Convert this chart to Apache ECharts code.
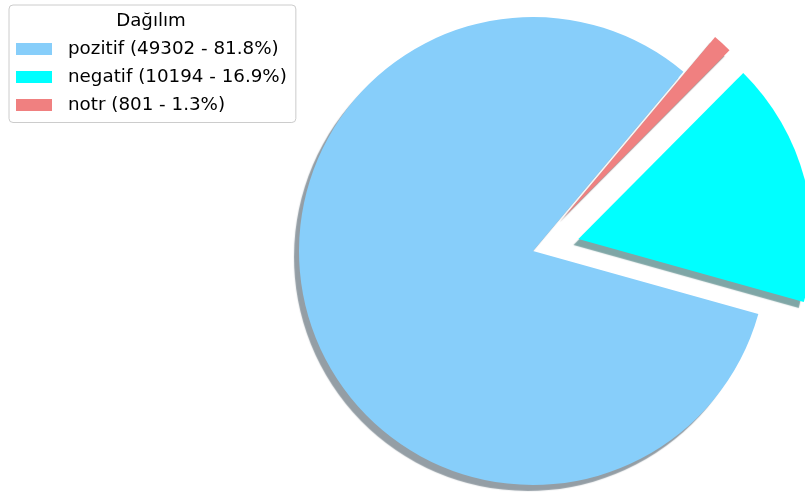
<!DOCTYPE html>
<html>
<head>
<meta charset="utf-8">
<script src="https://cdn.jsdelivr.net/npm/echarts@6/dist/echarts.min.js"></script>
<style>
  html, body { margin: 0; padding: 0; background: #fff; }
  #chart { width: 805px; height: 496px; }
</style>
</head>
<body>
<div id="chart"></div>
<script>
// Sentiment distribution
const categories = ['pozitif', 'negatif', 'notr'];
const counts = [49302, 10194, 801];
const colors = ['#87CEFA', '#00FFFF', '#F08080'];
const shadowColors = ['rgba(41,62,75,0.5)', 'rgba(0,77,77,0.5)', 'rgba(72,38,38,0.5)'];
const exploded = [false, true, true];
const legendTitle = 'Dağılım';

const total = counts.reduce((a, b) => a + b, 0);
const FONT = 'DejaVu Sans';

const pieData = categories.map((name, i) => ({
  name,
  value: counts[i],
  selected: exploded[i],
  itemStyle: {
    color: colors[i],
    shadowColor: shadowColors[i],
    shadowBlur: 1,
    shadowOffsetX: -5,
    shadowOffsetY: 6
  }
}));

const chart = echarts.init(document.getElementById('chart'), null, { renderer: 'canvas' });
chart.setOption({
  animation: false,
  backgroundColor: '#fff',
  title: {
    text: legendTitle,
    left: 151,
    top: 11,
    textAlign: 'center',
    padding: 0,
    textStyle: { fontFamily: FONT, fontSize: 18.2, fontWeight: 'normal', color: '#000', lineHeight: 20 }
  },
  legend: {
    orient: 'vertical',
    left: 9,
    top: 5,
    padding: [34.5, 9, 8, 7],
    itemWidth: 36,
    itemHeight: 12,
    itemGap: 9,
    icon: 'rect',
    backgroundColor: 'rgba(255,255,255,0.8)',
    borderColor: '#cccccc',
    borderWidth: 1,
    borderRadius: 4,
    selectedMode: false,
    data: categories.map((name, i) => ({
      name,
      itemStyle: { color: colors[i], shadowBlur: 0, shadowOffsetX: 0, shadowOffsetY: 0, shadowColor: 'transparent' }
    })),
    textStyle: { fontFamily: FONT, fontSize: 18.3, color: '#000', lineHeight: 19, padding: [0, 0, 0, 11] },
    formatter: (name) => {
      const v = counts[categories.indexOf(name)];
      return `${name} (${v} - ${(v / total * 100).toFixed(1)}%)`;
    }
  },
  series: [{
    type: 'pie',
    center: [533, 251],
    radius: 234,
    startAngle: 50,
    clockwise: false,
    selectedMode: 'multiple',
    selectedOffset: 47,
    avoidLabelOverlap: false,
    label: { show: false },
    labelLine: { show: false },
    emphasis: { disabled: true },
    select: { itemStyle: {} },
    data: pieData
  }]
});
</script>
</body>
</html>
